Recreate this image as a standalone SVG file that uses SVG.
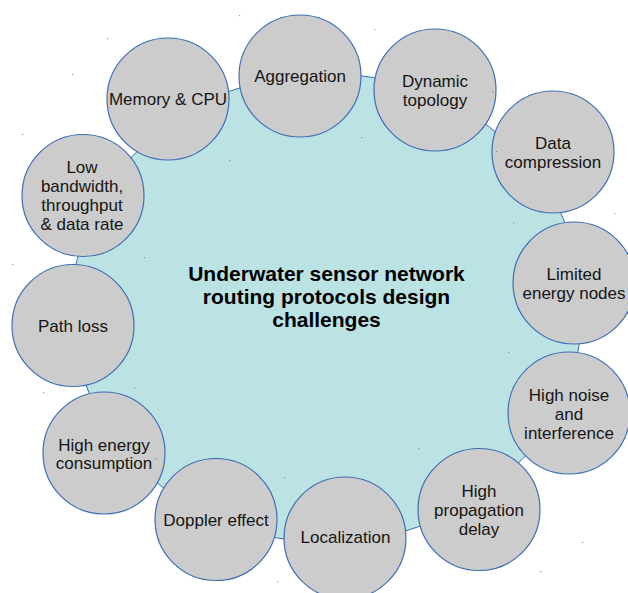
<svg xmlns="http://www.w3.org/2000/svg" width="628" height="593" viewBox="0 0 628 593">
  <style>
    .hub { fill: #bce3e4; stroke: #3f6db0; stroke-width: 1; }
    .node { fill: #cccccc; stroke: #3f6db0; stroke-width: 1.2; }
    .lbl { font-family: "Liberation Sans", Arial, sans-serif; font-size: 17px; fill: #151515; text-anchor: middle; }
    .title { font-family: "Liberation Sans", Arial, sans-serif; font-size: 21px; font-weight: bold; fill: #000; text-anchor: middle; }
    .dot { fill: #4d73b6; opacity: 0.7; }
  </style>
  <rect width="628" height="593" fill="#ffffff"/>

  <g id="hub">
    <ellipse class="hub" cx="327" cy="308" rx="255.5" ry="234.5"/>
    <text class="title" x="326.5" y="281">Underwater sensor network</text>
    <text class="title" x="326.5" y="304">routing protocols design</text>
    <text class="title" x="326.5" y="327">challenges</text>
  </g>

  <!-- no drawn connectors: challenges sit on the rim of the central hub -->
  <g id="connectors"/>

  <g id="aggregation">
    <circle class="node" cx="300" cy="76" r="61"/>
    <text class="lbl" x="300" y="82">Aggregation</text>
  </g>
  <g id="dynamic-topology">
    <circle class="node" cx="435" cy="90" r="61"/>
    <text class="lbl" x="435" y="87">Dynamic</text>
    <text class="lbl" x="435" y="106">topology</text>
  </g>
  <g id="data-compression">
    <circle class="node" cx="553" cy="152" r="61"/>
    <text class="lbl" x="553" y="149">Data</text>
    <text class="lbl" x="553" y="168">compression</text>
  </g>
  <g id="limited-energy">
    <circle class="node" cx="574" cy="283" r="61"/>
    <text class="lbl" x="574" y="280">Limited</text>
    <text class="lbl" x="574" y="299">energy nodes</text>
  </g>
  <g id="high-noise">
    <circle class="node" cx="569" cy="413" r="61"/>
    <text class="lbl" x="569" y="401">High noise</text>
    <text class="lbl" x="569" y="420">and</text>
    <text class="lbl" x="569" y="439">interference</text>
  </g>
  <g id="propagation-delay">
    <circle class="node" cx="479" cy="509.5" r="61"/>
    <text class="lbl" x="479" y="497">High</text>
    <text class="lbl" x="479" y="516">propagation</text>
    <text class="lbl" x="479" y="535">delay</text>
  </g>
  <g id="localization">
    <circle class="node" cx="345" cy="538" r="61"/>
    <text class="lbl" x="345.5" y="543">Localization</text>
  </g>
  <g id="doppler-effect">
    <circle class="node" cx="216" cy="519.5" r="61"/>
    <text class="lbl" x="216" y="526">Doppler effect</text>
  </g>
  <g id="high-energy">
    <circle class="node" cx="104" cy="453" r="61"/>
    <text class="lbl" x="104" y="451">High energy</text>
    <text class="lbl" x="104" y="469">consumption</text>
  </g>
  <g id="path-loss">
    <circle class="node" cx="73" cy="325.5" r="61"/>
    <text class="lbl" x="73" y="332">Path loss</text>
  </g>
  <g id="low-bandwidth">
    <circle class="node" cx="83" cy="195.5" r="61"/>
    <text class="lbl" x="82" y="173">Low</text>
    <text class="lbl" x="82" y="192">bandwidth,</text>
    <text class="lbl" x="82" y="211">throughput</text>
    <text class="lbl" x="82" y="230">&amp; data rate</text>
  </g>
  <g id="memory-cpu">
    <circle class="node" cx="168" cy="99" r="61"/>
    <text class="lbl" x="168" y="105">Memory &amp; CPU</text>
  </g>

  <!-- bounding-box handle specks -->
  <g id="handles">
    <rect class="dot" x="72" y="74" width="1.2" height="1.2"/>
    <rect class="dot" x="582" y="542" width="1.2" height="1.2"/>
    <rect class="dot" x="239" y="15" width="1.2" height="1.2"/>
    <rect class="dot" x="361" y="137" width="1.2" height="1.2"/>
    <rect class="dot" x="374" y="29" width="1.2" height="1.2"/>
    <rect class="dot" x="496" y="151" width="1.2" height="1.2"/>
    <rect class="dot" x="492" y="91" width="1.2" height="1.2"/>
    <rect class="dot" x="614" y="213" width="1.2" height="1.2"/>
    <rect class="dot" x="513" y="222" width="1.2" height="1.2"/>
    <rect class="dot" x="508" y="352" width="1.2" height="1.2"/>
    <rect class="dot" x="418" y="448" width="1.2" height="1.2"/>
    <rect class="dot" x="540" y="571" width="1.2" height="1.2"/>
    <rect class="dot" x="284" y="477" width="1.2" height="1.2"/>
    <rect class="dot" x="155" y="458" width="1.2" height="1.2"/>
    <rect class="dot" x="277" y="581" width="1.2" height="1.2"/>
    <rect class="dot" x="43" y="392" width="1.2" height="1.2"/>
    <rect class="dot" x="165" y="514" width="1.2" height="1.2"/>
    <rect class="dot" x="12" y="264" width="1.2" height="1.2"/>
    <rect class="dot" x="134" y="387" width="1.2" height="1.2"/>
    <rect class="dot" x="22" y="134" width="1.2" height="1.2"/>
    <rect class="dot" x="144" y="257" width="1.2" height="1.2"/>
    <rect class="dot" x="107" y="38" width="1.2" height="1.2"/>
    <rect class="dot" x="229" y="160" width="1.2" height="1.2"/>
  </g>
</svg>
